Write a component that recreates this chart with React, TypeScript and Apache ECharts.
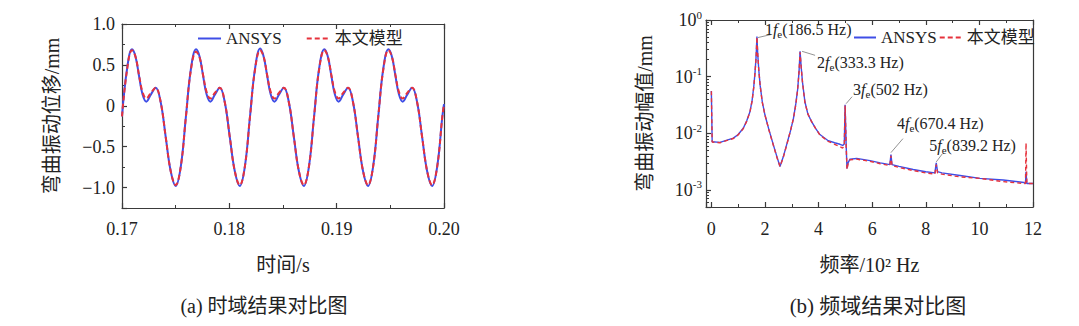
import React, { useEffect, useRef } from 'react';
import * as echarts from 'echarts';

// ---------- (a) time domain ----------
const timeS = [
  0.17, 0.17047,
  0.17093, 0.17126, 0.17158, 0.17191, 0.17226, 0.17270, 0.17314, 0.17361, 0.17407, 0.17454, 0.17500, 0.17548, 0.17595, 0.17642,
  0.17690, 0.17723, 0.17755, 0.17788, 0.17823, 0.17867, 0.17911, 0.17958, 0.18004, 0.18051, 0.18097, 0.18145, 0.18192, 0.18239,
  0.18287, 0.18320, 0.18352, 0.18385, 0.18420, 0.18464, 0.18508, 0.18555, 0.18601, 0.18648, 0.18694, 0.18742, 0.18789, 0.18836,
  0.18885, 0.18918, 0.18950, 0.18983, 0.19018, 0.19062, 0.19106, 0.19153, 0.19199, 0.19246, 0.19292, 0.19340, 0.19387, 0.19434,
  0.19482, 0.19515, 0.19547, 0.19580, 0.19615, 0.19659, 0.19703, 0.19750, 0.19796, 0.19843, 0.19889, 0.19937, 0.19984, 0.2,
];
const dispAnsys = [
  -0.13, 0.45,
  0.69, 0.60, 0.37, 0.14, 0.05, 0.14, 0.22, 0.04, -0.38, -0.80, -0.98, -0.74, -0.14, 0.45,
  0.69, 0.60, 0.37, 0.14, 0.05, 0.14, 0.22, 0.04, -0.38, -0.80, -0.98, -0.74, -0.14, 0.45,
  0.70, 0.60, 0.37, 0.14, 0.05, 0.14, 0.22, 0.04, -0.38, -0.80, -0.98, -0.74, -0.14, 0.45,
  0.69, 0.60, 0.37, 0.14, 0.05, 0.14, 0.22, 0.04, -0.38, -0.80, -0.98, -0.74, -0.14, 0.45,
  0.69, 0.60, 0.37, 0.14, 0.05, 0.14, 0.22, 0.04, -0.38, -0.80, -0.98, -0.74, -0.14, 0.02,
];
const dispModel = [
  -0.13, 0.44,
  0.68, 0.60, 0.38, 0.17, 0.09, 0.16, 0.22, 0.04, -0.38, -0.80, -0.97, -0.74, -0.14, 0.44,
  0.66, 0.59, 0.38, 0.17, 0.09, 0.16, 0.22, 0.04, -0.38, -0.80, -0.97, -0.74, -0.14, 0.44,
  0.68, 0.60, 0.38, 0.17, 0.09, 0.16, 0.22, 0.04, -0.38, -0.80, -0.97, -0.74, -0.14, 0.44,
  0.68, 0.60, 0.38, 0.17, 0.09, 0.16, 0.22, 0.04, -0.38, -0.80, -0.97, -0.74, -0.14, 0.44,
  0.68, 0.60, 0.38, 0.17, 0.09, 0.16, 0.22, 0.04, -0.38, -0.80, -0.97, -0.74, -0.14, 0.02,
];

// ---------- (b) frequency domain (x in 10^2 Hz) ----------
const freq = [
  0, 0.03, 0.32, 0.82, 1.0, 1.19, 1.32, 1.44, 1.52, 1.58, 1.63, 1.67, 1.70,
  1.73, 1.77, 1.82, 1.90, 2.0, 2.15, 2.31, 2.45, 2.56,
  2.68, 2.81, 2.95, 3.06, 3.15, 3.22, 3.27, 3.31,
  3.35, 3.40, 3.49, 3.60, 3.74, 3.90, 4.05, 4.36, 4.60, 4.80, 4.90, 4.96, 4.99,
  5.03, 5.06, 5.10, 5.17, 5.42, 5.92, 6.30, 6.66, 6.70, 6.74,
  7.0, 7.53, 8.0, 8.34, 8.39, 8.44, 8.6, 9.28, 10.02, 10.89, 11.66, 11.72, 11.74, 11.77, 12.0,
];
const ampAnsys = [
  0.056, 0.0071, 0.0069, 0.0082, 0.0095, 0.0123, 0.0166, 0.024, 0.038, 0.065, 0.12, 0.23, 0.51,
  0.25, 0.13, 0.07, 0.036, 0.021, 0.0115, 0.0063, 0.0038, 0.0026,
  0.0038, 0.0063, 0.011, 0.018, 0.033, 0.06, 0.12, 0.28,
  0.15, 0.08, 0.036, 0.022, 0.016, 0.012, 0.0095, 0.0074, 0.0068, 0.0064, 0.0061, 0.0065, 0.032,
  0.006, 0.0024, 0.0030, 0.0035, 0.0036, 0.0033, 0.0030, 0.0028, 0.0042, 0.0028,
  0.0026, 0.0023, 0.0021, 0.0020, 0.0030, 0.0021, 0.0020, 0.0018, 0.0016, 0.0015, 0.00135, 0.0013, 0.0021, 0.0013, 0.0013,
];
const ampModel = [
  0.055, 0.0070, 0.0068, 0.0081, 0.0094, 0.0121, 0.0164, 0.024, 0.037, 0.064, 0.12, 0.22, 0.50,
  0.25, 0.13, 0.07, 0.035, 0.021, 0.0113, 0.0062, 0.0037, 0.0026,
  0.0037, 0.0062, 0.011, 0.018, 0.032, 0.06, 0.12, 0.27,
  0.15, 0.08, 0.035, 0.022, 0.016, 0.012, 0.0093, 0.0072, 0.0064, 0.0058, 0.0055, 0.0062, 0.031,
  0.006, 0.0023, 0.0029, 0.0034, 0.0035, 0.0032, 0.0029, 0.0027, 0.0040, 0.0027,
  0.0025, 0.0022, 0.0020, 0.0019, 0.0028, 0.0020, 0.0019, 0.0017, 0.0016, 0.0014, 0.0013, 0.0013, 0.0067, 0.0013, 0.0013,
];

const harmonicOrders = ['1', '2', '3', '4', '5'];
const harmonicFreqText = ['186.5 Hz', '333.3 Hz', '502 Hz', '670.4 Hz', '839.2 Hz'];
const harmonicPeakFreq = [1.70, 3.31, 4.99, 6.70, 8.39];

const seriesNames = ['ANSYS', '本文模型'];
const xNameA = '时间/s';
const yNameA = '弯曲振动位移/mm';
const xNameB = '频率/10² Hz';
const yNameB = '弯曲振动幅值/mm';
const captionA = '(a) 时域结果对比图';
const captionB = '(b) 频域结果对比图';

const SERIF = "'Liberation Serif','Noto Sans CJK SC',serif";
const BLUE = '#3f4ee6';
const RED = '#e6323c';
const INK = '#222';
const AXIS = '#3a3a3a';

export default function App() {
  const ref = useRef<HTMLDivElement>(null);

  useEffect(() => {
    const chart = echarts.init(ref.current!, undefined, { renderer: 'svg', width: 1079, height: 326 });
    const lineSt = { color: AXIS, width: 1.2 };
    const axisLn = { show: true, onZero: false, lineStyle: lineSt };
    const tickInside = { show: true, inside: true, length: 5, lineStyle: lineSt };
    const minorInside = (n: number) => ({ show: true, splitNumber: n, length: 3, lineStyle: { color: AXIS, width: 1 } });
    const labelFont = { fontFamily: SERIF, fontSize: 18, color: INK };
    const nameFont = { fontFamily: SERIF, fontSize: 20, color: INK };
    const hidden = { show: false };
    const legendBase = {
      data: seriesNames, itemHeight: 14, selectedMode: false, padding: 0,
      itemStyle: { opacity: 0, borderWidth: 0 },
      textStyle: { fontFamily: SERIF, fontSize: 17, color: INK },
    };

    const option: any = {
      animation: false,
      backgroundColor: '#fff',
      grid: [
        { left: 122, top: 24, width: 322, height: 184 },
        { left: 706, top: 20, width: 327, height: 187 },
      ],
      legend: [
        { ...legendBase, left: 197, top: 30, itemWidth: 23, itemGap: 24 },
        { ...legendBase, left: 853, top: 29, itemWidth: 22, itemGap: 2 },
      ],
      xAxis: [
        {
          gridIndex: 0, type: 'value', min: 0.17, max: 0.2, interval: 0.01, position: 'bottom',
          axisLine: axisLn, axisTick: tickInside, minorTick: minorInside(2),
          splitLine: hidden,
          axisLabel: { ...labelFont, margin: 12, formatter: (v: number) => v.toFixed(2) },
          name: xNameA, nameLocation: 'middle', nameGap: 47, nameTextStyle: nameFont,
        },
        {
          gridIndex: 0, type: 'value', min: 0.17, max: 0.2, interval: 0.01, position: 'top',
          axisLine: axisLn, axisTick: tickInside, minorTick: minorInside(2),
          splitLine: hidden, axisLabel: hidden,
        },
        {
          gridIndex: 1, type: 'value', min: -0.2, max: 12, position: 'bottom',
          axisLine: axisLn, axisTick: tickInside, minorTick: minorInside(2),
          splitLine: hidden,
          axisLabel: {
            ...labelFont, margin: 13,
            formatter: (v: number) => {
              const r = Math.round(v);
              return Math.abs(v - r) < 1e-6 && r % 2 === 0 ? String(r) : '';
            },
          },
          name: xNameB, nameLocation: 'middle', nameGap: 48, nameTextStyle: nameFont,
        },
        {
          gridIndex: 1, type: 'value', min: -0.2, max: 12, position: 'top',
          axisLine: axisLn, axisTick: tickInside, minorTick: minorInside(2),
          splitLine: hidden, axisLabel: hidden,
        },
      ],
      yAxis: [
        {
          gridIndex: 0, type: 'value', min: -1.25, max: 1, position: 'left',
          axisLine: axisLn, axisTick: tickInside, minorTick: minorInside(2),
          splitLine: hidden,
          axisLabel: {
            ...labelFont, margin: 7,
            formatter: (v: number) => {
              if (Math.abs(v * 2 - Math.round(v * 2)) > 1e-6) return '';
              if (Math.abs(v) < 1e-9) return '0';
              return v.toFixed(1).replace('-', '\u2212');
            },
          },
          name: yNameA, nameLocation: 'middle', nameGap: 60, nameRotate: 90, nameTextStyle: nameFont,
        },
        {
          gridIndex: 0, type: 'value', min: -1.25, max: 1, position: 'right',
          axisLine: axisLn, axisTick: hidden, splitLine: hidden, axisLabel: hidden,
        },
        {
          gridIndex: 1, type: 'log', logBase: 10, min: 0.0005, max: 1, position: 'left',
          axisLine: axisLn, axisTick: tickInside, minorTick: minorInside(9),
          splitLine: hidden,
          axisLabel: {
            ...labelFont, margin: 4, lineHeight: 22,
            formatter: (v: number) => {
              const e = Math.log10(v);
              const r = Math.round(e);
              if (Math.abs(e - r) > 1e-6) return '';
              return `{b|10}{sup|${r}}`;
            },
            rich: {
              b: { fontFamily: SERIF, fontSize: 18, color: INK, lineHeight: 22 },
              sup: { fontFamily: SERIF, fontSize: 11, color: INK, verticalAlign: 'top', lineHeight: 22 },
            },
          },
          name: yNameB, nameLocation: 'middle', nameGap: 51, nameRotate: 90, nameTextStyle: nameFont,
        },
        {
          gridIndex: 1, type: 'log', logBase: 10, min: 0.0005, max: 1, position: 'right',
          axisLine: axisLn, axisTick: hidden, splitLine: hidden, axisLabel: hidden,
        },
      ],
      series: [
        {
          name: seriesNames[0], type: 'line', xAxisIndex: 0, yAxisIndex: 0, color: BLUE,
          data: timeS.map((t, i) => [t, dispAnsys[i]]), smooth: 0.4, symbol: 'none',
          lineStyle: { color: BLUE, width: 2 }, z: 2,
        },
        {
          name: seriesNames[1], type: 'line', xAxisIndex: 0, yAxisIndex: 0, color: RED,
          data: timeS.map((t, i) => [t, dispModel[i]]), smooth: 0.4, symbol: 'none',
          lineStyle: { color: RED, width: 2, type: [5, 3] }, z: 3,
        },
        {
          name: seriesNames[0], type: 'line', xAxisIndex: 2, yAxisIndex: 2, color: BLUE,
          data: freq.map((f, i) => [f, ampAnsys[i]]), symbol: 'none',
          lineStyle: { color: BLUE, width: 1.4 }, z: 2,
        },
        {
          name: seriesNames[1], type: 'line', xAxisIndex: 2, yAxisIndex: 2, color: RED,
          data: freq.map((f, i) => [f, ampModel[i]]), symbol: 'none',
          lineStyle: { color: RED, width: 1.4, type: [4, 3] }, z: 3,
        },
      ],
    };
    chart.setOption(option);

    // harmonic annotations, anchored to the spectrum peaks through the chart's scales
    const annoLayout = [
      { tx: 8, ty: -7, x1: 1, y1: 1, x2: 14, y2: -2 },
      { tx: 17, ty: 11, x1: 2, y1: 0, x2: 15, y2: 4 },
      { tx: 8, ty: -15, x1: 1, y1: -1, x2: 7, y2: -8 },
      { tx: 6, ty: -31, x1: 0, y1: -2, x2: 12, y2: -16 },
      { tx: -7, ty: -17, x1: 0, y1: -1, x2: 6, y2: -9 },
    ];
    const richAnno = {
      n: { fontFamily: SERIF, fontSize: 16, fill: INK, color: INK, lineHeight: 20 },
      i: { fontFamily: SERIF, fontSize: 16, fontStyle: 'italic', fill: INK, color: INK, lineHeight: 20 },
      s: { fontFamily: SERIF, fontSize: 11, fill: INK, color: INK, lineHeight: 20, verticalAlign: 'bottom' },
    };
    const annos: any[] = [];
    harmonicPeakFreq.forEach((f, k) => {
      const idx = freq.indexOf(f);
      const p = chart.convertToPixel({ seriesIndex: 2 }, [f, ampAnsys[idx]]) as number[];
      const L = annoLayout[k];
      annos.push({
        type: 'line', silent: true, z: 20,
        shape: { x1: p[0] + L.x1, y1: p[1] + L.y1, x2: p[0] + L.x2, y2: p[1] + L.y2 },
        style: { stroke: '#777', lineWidth: 0.8 },
      });
      annos.push({
        type: 'text', silent: true, z: 20, x: p[0] + L.tx, y: p[1] + L.ty,
        style: {
          text: `{n|${harmonicOrders[k]}}{i|f}{s|e}{n|(${harmonicFreqText[k]})}`,
          rich: richAnno, align: 'left', verticalAlign: 'middle',
        },
      });
    });
    const captions = [
      { text: captionA, x: 264, y: 306, size: 20 },
      { text: captionB, x: 878, y: 306, size: 21 },
    ].map((c) => ({
      type: 'text', silent: true, x: c.x, y: c.y,
      style: {
        text: c.text, fontFamily: SERIF, fontSize: c.size, fill: INK,
        align: 'center', verticalAlign: 'middle',
      },
    }));
    chart.setOption({ graphic: [...captions, ...annos] });

    return () => chart.dispose();
  }, []);

  return (
    <div
      ref={ref}
      style={{ position: 'absolute', left: 0, top: 0, width: 1079, height: 326, background: '#fff' }}
    />
  );
}
